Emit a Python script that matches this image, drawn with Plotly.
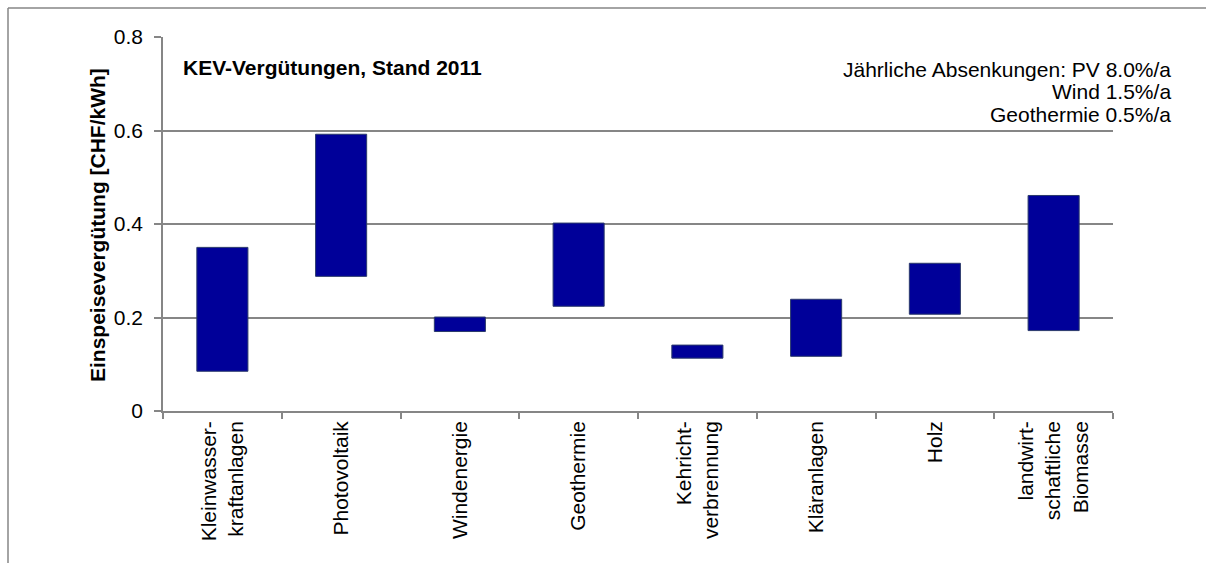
import plotly.graph_objects as go

categories = [
    "Kleinwasser-<br>kraftanlagen",
    "Photovoltaik",
    "Windenergie",
    "Geothermie",
    "Kehricht-<br>verbrennung",
    "Kläranlagen",
    "Holz",
    "landwirt-<br>schaftliche<br>Biomasse",
]
low_values = [0.085, 0.288, 0.170, 0.224, 0.113, 0.117, 0.207, 0.172]
high_values = [0.350, 0.592, 0.201, 0.402, 0.141, 0.239, 0.316, 0.461]
y_ticks = [0, 0.2, 0.4, 0.6, 0.8]
y_tick_labels = ["0", "0.2", "0.4", "0.6", "0.8"]
note_lines = ["Jährliche Absenkungen: PV 8.0%/a", "Wind 1.5%/a", "Geothermie 0.5%/a"]

heights = [h - l for h, l in zip(high_values, low_values)]

FONT = "Liberation Sans, Arial, sans-serif"
GRID = "#868686"
FS = 21

fig = go.Figure()
fig.add_trace(go.Bar(
    x=categories,
    y=heights,
    base=low_values,
    width=0.43,
    marker=dict(color="#000099", line=dict(color="#2b3a6b", width=1)),
    hoverinfo="skip",
))

# plot area geometry (pixels)
L, R, T, B = 163, 93, 37, 152
W, H = 1206, 563
pw = W - L - R
ph = H - T - B

def px_x(x):
    return (x - L) / pw

def px_y(y):
    return (H - B - y) / ph

fig.update_layout(
    width=W,
    height=H,
    margin=dict(l=L, r=R, t=T, b=B),
    paper_bgcolor="white",
    plot_bgcolor="white",
    showlegend=False,
    font=dict(family=FONT, size=FS, color="black"),
    xaxis=dict(
        showline=True,
        linecolor=GRID,
        linewidth=1.5,
        ticks="outside",
        tickson="boundaries",
        tickcolor=GRID,
        ticklen=6,
        tickwidth=1.5,
        tickangle=-90,
        tickfont=dict(family=FONT, size=FS, color="black"),
        showgrid=False,
    ),
    yaxis=dict(
        range=[0, 0.8],
        tickvals=y_ticks,
        ticktext=y_tick_labels,
        showline=True,
        linecolor=GRID,
        linewidth=1.5,
        ticks="outside",
        tickcolor=GRID,
        ticklen=7,
        tickwidth=1.5,
        ticklabelstandoff=7,
        showgrid=True,
        gridcolor=GRID,
        gridwidth=1.5,
        zeroline=False,
        tickfont=dict(family=FONT, size=FS, color="black"),
    ),
)

# y-axis title
fig.add_annotation(
    xref="paper", yref="paper",
    x=px_x(97), y=px_y(225),
    text="<b>Einspeisevergütung [CHF/kWh]</b>",
    textangle=-90,
    showarrow=False,
    font=dict(family=FONT, size=FS, color="black"),
    xanchor="center", yanchor="middle",
)

# inner title
fig.add_annotation(
    xref="paper", yref="paper",
    x=px_x(181), y=px_y(67),
    text="<b>KEV-Vergütungen, Stand 2011</b>",
    showarrow=False,
    font=dict(family=FONT, size=FS, color="black"),
    xanchor="left", yanchor="middle",
)

# right note, one annotation per line
for i, line in enumerate(note_lines):
    fig.add_annotation(
        xref="paper", yref="paper",
        x=px_x(1173), y=px_y(69 + 22.5 * i),
        text=line,
        showarrow=False,
        font=dict(family=FONT, size=FS, color="black"),
        xanchor="right", yanchor="middle",
    )

# outer frame (top and left lines)
fig.add_shape(type="line", xref="paper", yref="paper",
              x0=px_x(8), x1=px_x(1206), y0=px_y(8), y1=px_y(8),
              line=dict(color=GRID, width=1.5))
fig.add_shape(type="line", xref="paper", yref="paper",
              x0=px_x(8), x1=px_x(8), y0=px_y(8), y1=px_y(563),
              line=dict(color=GRID, width=1.5))

fig.write_html("out.html")
